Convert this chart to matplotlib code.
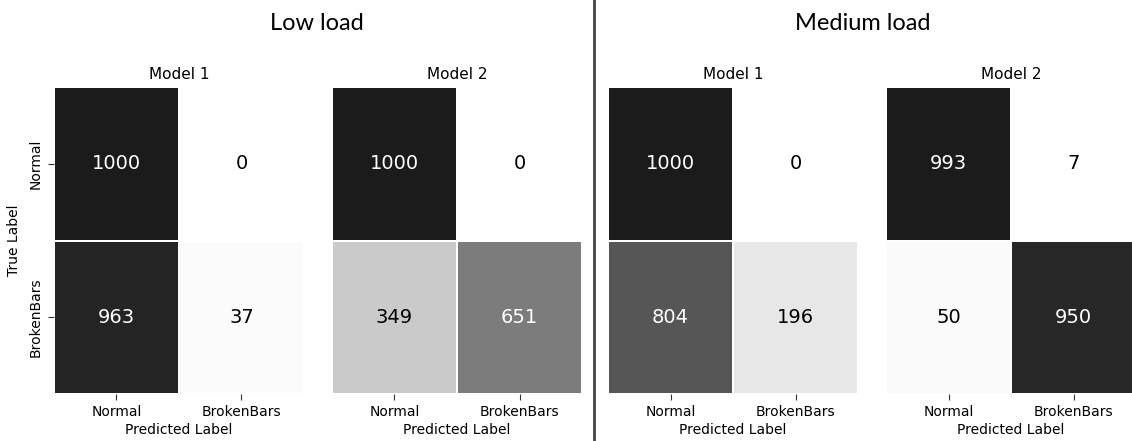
import numpy as np
import matplotlib.pyplot as plt
from matplotlib.colors import ListedColormap

classes = ["Normal", "BrokenBars"]
load_titles = ["Low load", "Medium load"]
model_titles = ["Model 1", "Model 2"]

# confusion matrices, rows = true label, cols = predicted label
low_model1 = [[1000, 0], [963, 37]]
low_model2 = [[1000, 0], [349, 651]]
medium_model1 = [[1000, 0], [804, 196]]
medium_model2 = [[993, 7], [50, 950]]

matrices = [low_model1, low_model2, medium_model1, medium_model2]

W, H = 1132, 441
fig = plt.figure(figsize=(W / 100, H / 100), dpi=100)

# greys, stopping a little short of pure black
cmap = ListedColormap(plt.get_cmap("Greys")(np.linspace(0, 0.91, 256)))

panel_left = [54, 332, 608, 886]
panel_w = 250
top, bottom = 87, 394

for i, cm in enumerate(matrices):
    cm = np.array(cm)
    ax = fig.add_axes([panel_left[i] / W, (H - bottom) / H, panel_w / W, (bottom - top) / H])
    ax.pcolormesh(np.arange(3), np.arange(3), cm, cmap=cmap, vmin=0, vmax=cm.max(),
                  edgecolors="white", linewidth=1.2)
    ax.set_xlim(0, 2)
    ax.set_ylim(2, 0)
    for r in range(2):
        for c in range(2):
            v = cm[r, c]
            col = "white" if v / cm.max() > 0.5 else "black"
            ax.text(c + 0.5, r + 0.5, str(v), ha="center", va="center", fontsize=14, color=col)
    for s in ax.spines.values():
        s.set_visible(False)
    ax.set_xticks([0.5, 1.5])
    ax.set_xticklabels(classes, fontsize=10)
    ax.set_xlabel("Predicted Label", fontsize=10, labelpad=3)
    ax.tick_params(length=4, color="#333333", pad=4)
    ax.set_title(model_titles[i % 2], fontsize=11, pad=6)
    if i == 0:
        ax.set_yticks([0.5, 1.5])
        ax.set_yticklabels(classes, fontsize=10, rotation=90, va="center")
        ax.set_ylabel("True Label", fontsize=10, labelpad=6)
    else:
        ax.set_yticks([])

fig.text(317 / W, 1 - 23 / H, load_titles[0], ha="center", va="center", fontsize=17, family="Lato")
fig.text(863 / W, 1 - 23 / H, load_titles[1], ha="center", va="center", fontsize=17, family="Lato")

# divider between the two load groups
fig.add_artist(plt.Line2D([594 / W, 594 / W], [0, 1], transform=fig.transFigure,
                          color="#444444", linewidth=2))

fig.savefig("out.png", dpi=100)
